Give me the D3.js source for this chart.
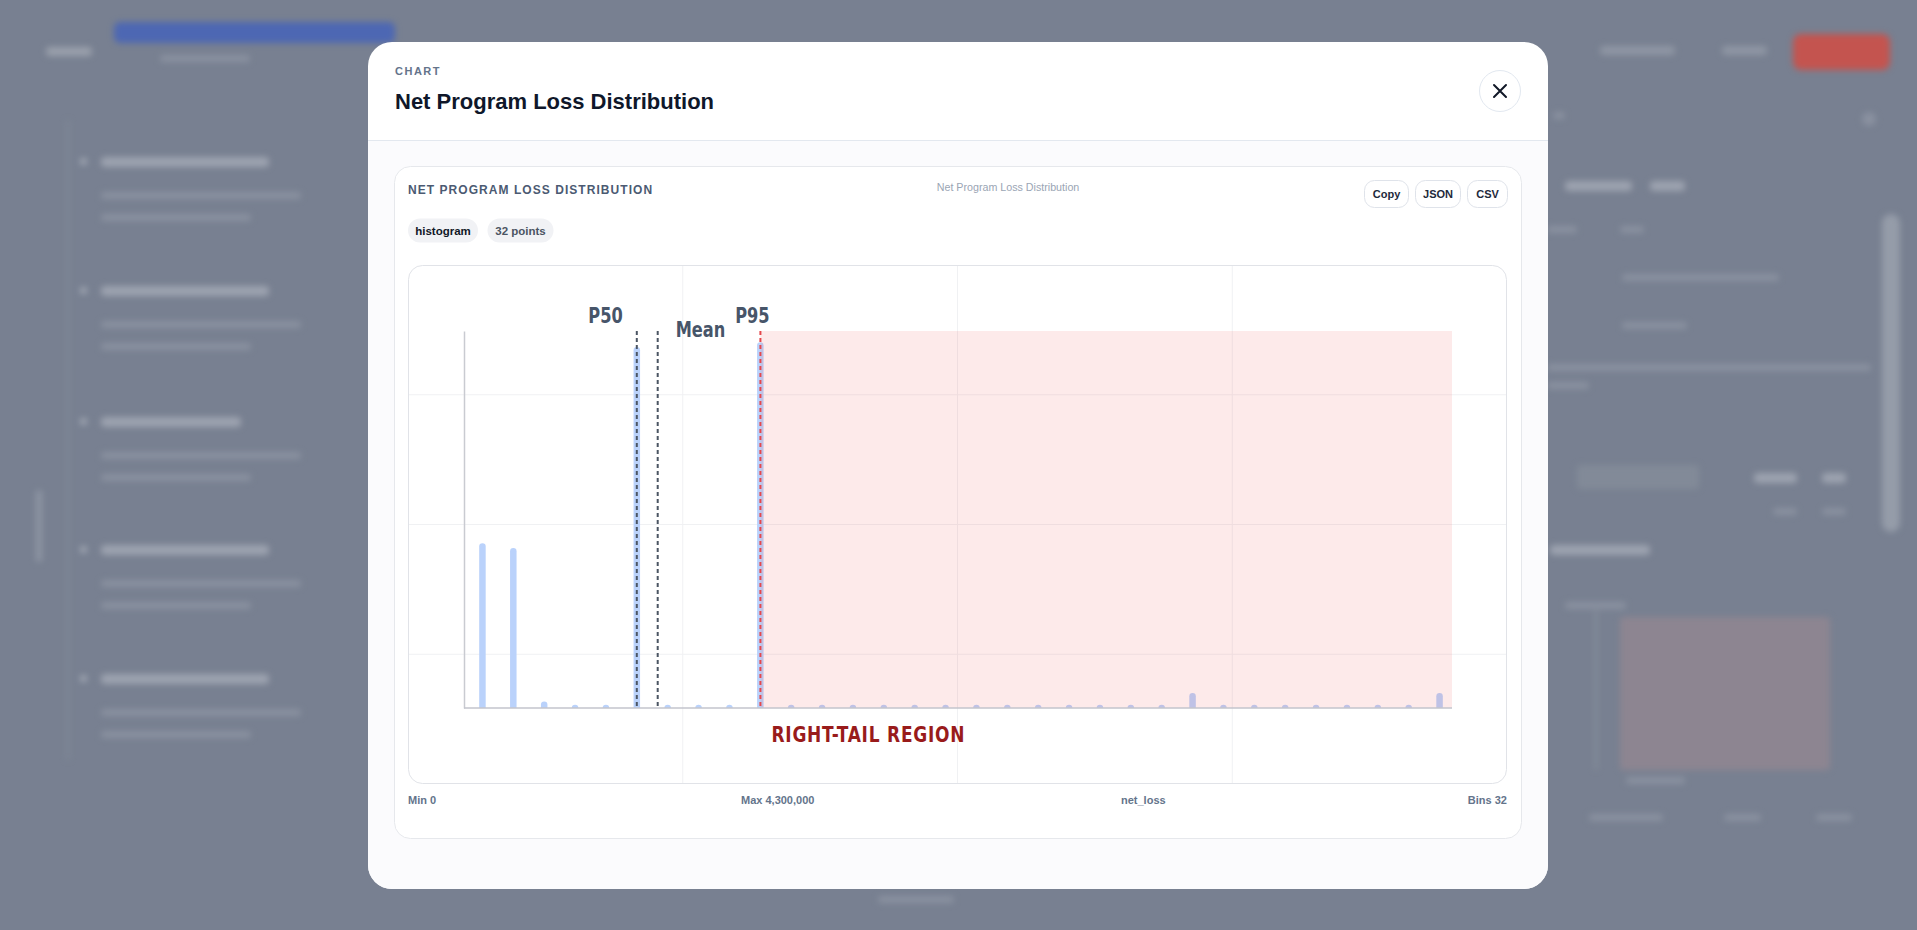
<!DOCTYPE html>
<html lang="en">
<head>
  <meta charset="UTF-8">
  <title>Net Program Loss Distribution</title>
  <script src="https://d3js.org/d3.v7.min.js"></script>
  <style>
    html, body {
      margin: 0;
      padding: 0;
    }
    body {
      width: 1917px;
      height: 930px;
      overflow: hidden;
      position: relative;
      background: #788091;
      font-family: "Liberation Sans", Arial, sans-serif;
    }
    #backdrop {
      position: absolute;
      left: 0;
      top: 0;
      width: 1917px;
      height: 930px;
      filter: blur(3px);
    }
    #backdrop div {
      position: absolute;
      border-radius: 4px;
    }
    .hd { background: #9da3b0; height: 10px; }
    .ln { background: #8a91a0; height: 7px; }
    #page {
      position: absolute;
      left: 0;
      top: 0;
    }
    .narrow {
      font-family: "DejaVu Sans Condensed", "DejaVu Sans", sans-serif;
      font-stretch: condensed;
      font-weight: 700;
    }
  </style>
</head>
<body>
<div id="backdrop">
  <div style="left:46px;top:47px;width:46px;height:9px;background:#9aa0ac"></div>
  <div style="left:114px;top:22px;width:281px;height:21px;background:#4d67b3;border-radius:6px"></div>
  <div style="left:160px;top:55px;width:90px;height:7px;background:#8a91a0"></div>
  <div style="left:67px;top:120px;width:2px;height:640px;background:#858c9a"></div>
  <div style="left:36px;top:490px;width:6px;height:72px;background:#8f96a4"></div>

  <div style="left:80px;top:158px;width:7px;height:7px;background:#a3a9b5;border-radius:4px"></div>
  <div class="hd" style="left:101px;top:157px;width:168px"></div>
  <div class="ln" style="left:101px;top:192px;width:200px"></div>
  <div class="ln" style="left:101px;top:214px;width:150px"></div>
  <div style="left:80px;top:287px;width:7px;height:7px;background:#a3a9b5;border-radius:4px"></div>
  <div class="hd" style="left:101px;top:286px;width:168px"></div>
  <div class="ln" style="left:101px;top:321px;width:200px"></div>
  <div class="ln" style="left:101px;top:343px;width:150px"></div>
  <div style="left:80px;top:418px;width:7px;height:7px;background:#a3a9b5;border-radius:4px"></div>
  <div class="hd" style="left:101px;top:417px;width:140px"></div>
  <div class="ln" style="left:101px;top:452px;width:200px"></div>
  <div class="ln" style="left:101px;top:474px;width:150px"></div>
  <div style="left:80px;top:546px;width:7px;height:7px;background:#a3a9b5;border-radius:4px"></div>
  <div class="hd" style="left:101px;top:545px;width:168px"></div>
  <div class="ln" style="left:101px;top:580px;width:200px"></div>
  <div class="ln" style="left:101px;top:602px;width:150px"></div>
  <div style="left:80px;top:675px;width:7px;height:7px;background:#a3a9b5;border-radius:4px"></div>
  <div class="hd" style="left:101px;top:674px;width:168px"></div>
  <div class="ln" style="left:101px;top:709px;width:200px"></div>
  <div class="ln" style="left:101px;top:731px;width:150px"></div>

  <div style="left:1600px;top:46px;width:75px;height:9px;background:#8f96a4"></div>
  <div style="left:1722px;top:46px;width:45px;height:9px;background:#8f96a4"></div>
  <div style="left:1793px;top:34px;width:97px;height:36px;background:#c4544f;border-radius:8px"></div>
  <div style="left:1862px;top:112px;width:14px;height:14px;background:#8a91a0;border-radius:7px"></div>

  <div class="ln" style="left:1553px;top:112px;width:12px"></div>
  <div class="hd" style="left:1565px;top:181px;width:67px"></div>
  <div class="hd" style="left:1650px;top:181px;width:35px"></div>
  <div class="ln" style="left:1547px;top:226px;width:30px"></div>
  <div class="ln" style="left:1620px;top:226px;width:24px"></div>
  <div class="ln" style="left:1622px;top:274px;width:157px"></div>
  <div class="ln" style="left:1622px;top:322px;width:65px"></div>
  <div class="ln" style="left:1547px;top:364px;width:324px"></div>
  <div class="ln" style="left:1547px;top:382px;width:42px"></div>
  <div style="left:1577px;top:465px;width:122px;height:24px;background:#828a98"></div>
  <div class="hd" style="left:1754px;top:473px;width:43px"></div>
  <div class="hd" style="left:1822px;top:473px;width:24px"></div>
  <div class="ln" style="left:1773px;top:508px;width:24px"></div>
  <div class="ln" style="left:1822px;top:508px;width:24px"></div>
  <div class="hd" style="left:1550px;top:545px;width:100px"></div>
  <div class="ln" style="left:1565px;top:602px;width:61px"></div>
  <div style="left:1595px;top:610px;width:2px;height:160px;background:#8e95a2"></div>
  <div style="left:1620px;top:617px;width:210px;height:153px;background:#8d8591"></div>
  <div class="ln" style="left:1626px;top:777px;width:59px"></div>
  <div class="ln" style="left:1589px;top:814px;width:74px"></div>
  <div class="ln" style="left:1724px;top:814px;width:37px"></div>
  <div class="ln" style="left:1816px;top:814px;width:36px"></div>
  <div style="left:1882px;top:214px;width:18px;height:318px;background:#959ca9;border-radius:9px"></div>
  <div class="ln" style="left:878px;top:896px;width:76px"></div>
</div>

<svg id="page" width="1917" height="930"></svg>

<script>
// ---- data ----
const binCounts = [1024, 994, 21, 0, 0, 2270, 0, 0, 0, 2300,
                   0, 0, 0, 0, 0, 0, 0, 0, 0, 0, 0, 0, 0, 74,
                   0, 0, 0, 0, 0, 0, 0, 74];
const lossMin = 0;
const lossMax = 4300000;
const fieldName = "net_loss";
const markerNames = ["P50", "Mean", "P95"];
const markerValues = [739000, 830000, 1277000];
const tailLabel = "RIGHT-TAIL REGION";
const chartTitle = "Net Program Loss Distribution";
const chartKind = "histogram";
const actionLabels = ["Copy", "JSON", "CSV"];

// label placement for each marker (pixels)
const labelLayout = {
  P50:  { dx: -14, dy: -8, anchor: "end" },
  Mean: { dx: 18,  dy: 6,  anchor: "start" },
  P95:  { dx: -8,  dy: -8, anchor: "middle" }
};

const svg = d3.select("#page");
const fmt = d3.format(",");

// ---- modal ----
const modal = { x: 368, y: 42, w: 1180, h: 847 };
svg.append("defs").append("clipPath").attr("id", "modal-clip")
  .append("rect")
  .attr("x", modal.x).attr("y", modal.y)
  .attr("width", modal.w).attr("height", modal.h)
  .attr("rx", 24);

const m = svg.append("g").attr("clip-path", "url(#modal-clip)");
m.append("rect")
  .attr("x", modal.x).attr("y", modal.y)
  .attr("width", modal.w).attr("height", modal.h)
  .attr("fill", "#ffffff");
m.append("rect")
  .attr("x", modal.x).attr("y", 140)
  .attr("width", modal.w).attr("height", modal.h)
  .attr("fill", "#fbfbfd");
m.append("line")
  .attr("x1", modal.x).attr("x2", modal.x + modal.w)
  .attr("y1", 140.5).attr("y2", 140.5)
  .attr("stroke", "#e3e8ef");

m.append("text")
  .attr("x", 395).attr("y", 75)
  .attr("font-size", 11).attr("font-weight", 700)
  .attr("letter-spacing", 1.5)
  .attr("fill", "#64748b")
  .text("CHART");
m.append("text")
  .attr("x", 395).attr("y", 109)
  .attr("font-size", 22).attr("font-weight", 700)
  .attr("fill", "#0f172a")
  .text(chartTitle);

// close button
m.append("circle")
  .attr("cx", 1500).attr("cy", 91).attr("r", 20.5)
  .attr("fill", "#fff").attr("stroke", "#e2e8f0");
m.append("path")
  .attr("d", "M1494,85L1506,97M1506,85L1494,97")
  .attr("stroke", "#111827").attr("stroke-width", 2)
  .attr("stroke-linecap", "round");

// ---- card ----
m.append("rect")
  .attr("x", 394.5).attr("y", 166.5)
  .attr("width", 1127).attr("height", 672)
  .attr("rx", 16)
  .attr("fill", "#fff").attr("stroke", "#e6e8ec");

m.append("text")
  .attr("x", 408).attr("y", 193.5)
  .attr("font-size", 12).attr("font-weight", 700)
  .attr("letter-spacing", 1.05)
  .attr("fill", "#4b5a72")
  .text(chartTitle.toUpperCase());
m.append("text")
  .attr("x", 1008).attr("y", 191)
  .attr("text-anchor", "middle")
  .attr("font-size", 10.7)
  .attr("fill", "#9aa5b4")
  .text(chartTitle);

// action buttons
const btnX = [1364.5, 1415.5, 1467.5];
const btnW = [44, 45, 40];
const btns = m.selectAll(".btn")
  .data(actionLabels)
  .enter().append("g")
  .attr("class", "btn")
  .attr("transform", (d, i) => `translate(${btnX[i]},180.5)`);
btns.append("rect")
  .attr("width", (d, i) => btnW[i]).attr("height", 27)
  .attr("rx", 10)
  .attr("fill", "#fff").attr("stroke", "#dfe3ea");
btns.append("text")
  .attr("x", (d, i) => btnW[i] / 2).attr("y", 17.5)
  .attr("text-anchor", "middle")
  .attr("font-size", 11).attr("font-weight", 700)
  .attr("fill", "#1e293b")
  .text(d => d);

// pills
const pills = [
  { text: chartKind, x: 408, w: 70, color: "#111827" },
  { text: `${binCounts.length} points`, x: 487.5, w: 66, color: "#4b5563" }
];
const pg = m.selectAll(".pill")
  .data(pills)
  .enter().append("g")
  .attr("class", "pill")
  .attr("transform", d => `translate(${d.x},218.5)`);
pg.append("rect")
  .attr("width", d => d.w).attr("height", 24)
  .attr("rx", 12)
  .attr("fill", "#f1f2f5");
pg.append("text")
  .attr("x", d => d.w / 2).attr("y", 16)
  .attr("text-anchor", "middle")
  .attr("font-size", 11.5).attr("font-weight", 700)
  .attr("fill", d => d.color)
  .text(d => d.text);

// footer stats
const footer = [
  { text: `Min ${fmt(lossMin)}`, x: 408, anchor: "start" },
  { text: `Max ${fmt(lossMax)}`, x: 741, anchor: "start" },
  { text: fieldName, x: 1121, anchor: "start" },
  { text: `Bins ${binCounts.length}`, x: 1507, anchor: "end" }
];
m.selectAll(".foot")
  .data(footer)
  .enter().append("text")
  .attr("class", "foot")
  .attr("x", d => d.x).attr("y", 804)
  .attr("text-anchor", d => d.anchor)
  .attr("font-size", 11).attr("font-weight", 700)
  .attr("fill", "#64748b")
  .text(d => d.text);

// ---- chart box ----
const box = { x: 408, y: 265, w: 1099, h: 519 };
const g = m.append("g").attr("transform", `translate(${box.x},${box.y})`);

g.append("rect")
  .attr("x", 0.5).attr("y", 0.5)
  .attr("width", box.w - 1).attr("height", box.h - 1)
  .attr("rx", 14)
  .attr("fill", "#fff");

// background grid at quarters
[1, 2, 3].forEach(k => {
  g.append("line")
    .attr("x1", box.w * k / 4).attr("x2", box.w * k / 4)
    .attr("y1", 1).attr("y2", box.h - 1)
    .attr("stroke", "#f0f1f3");
  g.append("line")
    .attr("x1", 1).attr("x2", box.w - 1)
    .attr("y1", box.h * k / 4).attr("y2", box.h * k / 4)
    .attr("stroke", "#f0f1f3");
});

g.append("rect")
  .attr("x", 0.5).attr("y", 0.5)
  .attr("width", box.w - 1).attr("height", box.h - 1)
  .attr("rx", 14)
  .attr("fill", "none").attr("stroke", "#e1e3e8");

const plot = { left: 56, right: 1044, top: 66, bottom: 443 };

const binWidth = (lossMax - lossMin) / binCounts.length;
const bins = binCounts.map((c, i) => ({
  center: lossMin + (i + 0.5) * binWidth,
  count: c
}));

const x = d3.scaleLinear()
  .domain([lossMin, lossMax])
  .range([plot.left + 3, plot.right + 3]);
const y = d3.scaleLinear()
  .domain([0, d3.max(binCounts) * 1.04])
  .range([plot.bottom, plot.top]);

g.append("defs").append("clipPath").attr("id", "plot-clip")
  .append("rect")
  .attr("x", 0).attr("y", 0)
  .attr("width", box.w).attr("height", plot.bottom);

// bars as rounded strokes
g.append("g")
  .attr("clip-path", "url(#plot-clip)")
  .selectAll("line")
  .data(bins)
  .enter().append("line")
  .attr("x1", d => x(d.center)).attr("x2", d => x(d.center))
  .attr("y1", y(0))
  .attr("y2", d => Math.min(y(d.count), y(0) - 0.01))
  .attr("stroke", "#bad2fb")
  .attr("stroke-width", 6.5)
  .attr("stroke-linecap", "round");

// right tail shading
const p95 = markerValues[markerNames.indexOf("P95")];
g.append("rect")
  .attr("x", x(p95)).attr("y", plot.top)
  .attr("width", plot.right - x(p95))
  .attr("height", plot.bottom - plot.top)
  .attr("fill", "#ef4444")
  .attr("fill-opacity", 0.11);

// axes
g.append("g")
  .attr("transform", `translate(${plot.left},0)`)
  .call(d3.axisLeft(y).ticks(0).tickSizeOuter(0))
  .call(a => a.select(".domain").attr("stroke", "#c9cbd1").attr("stroke-width", 1.5));
g.append("line")
  .attr("x1", plot.left).attr("x2", plot.right)
  .attr("y1", plot.bottom).attr("y2", plot.bottom)
  .attr("stroke", "#c3c4cd").attr("stroke-width", 1.5);

// marker lines + labels
const markers = markerNames.map((n, i) => ({ name: n, value: markerValues[i] }));
g.selectAll(".marker")
  .data(markers)
  .enter().append("line")
  .attr("class", "marker")
  .attr("x1", d => x(d.value)).attr("x2", d => x(d.value))
  .attr("y1", plot.top).attr("y2", plot.bottom)
  .attr("stroke", d => d.name === "P95" ? "#e5484d" : "#4b5563")
  .attr("stroke-width", 2)
  .attr("stroke-dasharray", "4 3");

// condensed labels: squeeze horizontally around their anchor
g.selectAll(".marker-label")
  .data(markers)
  .enter().append("text")
  .attr("class", "marker-label narrow")
  .attr("transform", d =>
    `translate(${x(d.value) + labelLayout[d.name].dx},${plot.top + labelLayout[d.name].dy}) scale(0.82,1)`)
  .attr("text-anchor", d => labelLayout[d.name].anchor)
  .attr("font-size", 22)
  .attr("fill", "#475569")
  .text(d => d.name);

g.append("text")
  .attr("class", "narrow")
  .attr("transform", `translate(${x(p95) + 11},${plot.bottom + 34}) scale(0.86,1)`)
  .attr("font-size", 22)
  .attr("letter-spacing", 0.9)
  .attr("fill", "#991b1b")
  .text(tailLabel);
</script>
</body>
</html>
